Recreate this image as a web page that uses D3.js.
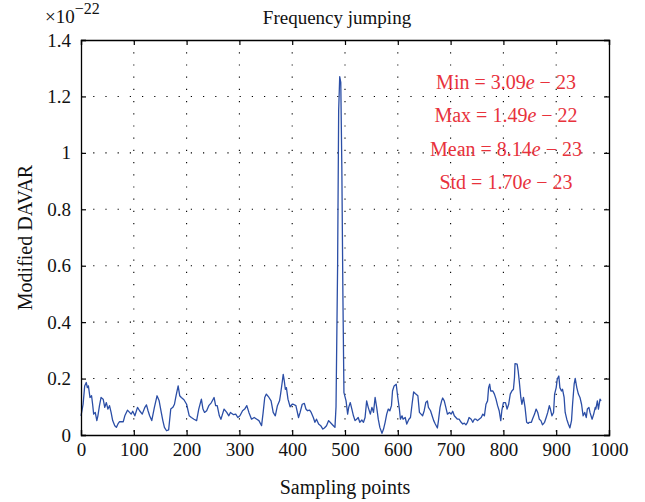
<!DOCTYPE html>
<html>
<head>
<meta charset="utf-8">
<script src="https://cdn.jsdelivr.net/npm/d3@7"></script>
<style>
  body { margin: 0; background: #fff; }
  svg { font-family: "Liberation Serif", "DejaVu Serif", serif; }
</style>
</head>
<body>
<svg id="chart" width="645" height="502"></svg>
<script>
// Modified DAVAR under frequency jumping (values in units of 1e-22)
const sampleIdx = [0,4,7,10,12,14,17,20,22,24,27,30,32,35,38,42,45,48,51,54,57,60,64,67,70,73,80,83,88,92,95,98,102,107,111,116,121,124,127,130,134,139,144,148,152,155,158,162,166,170,174,177,180,184,187,190,195,200,
  205,209,214,219,223,228,231,234,238,242,247,252,255,258,262,265,268,271,276,280,283,289,293,297,301,306,310,314,318,323,328,333,337,342,345,348,351,356,360,364,368,372,376,378,381,383,385,387,389,392,396,400,
  402,407,412,415,419,423,426,429,433,436,440,443,446,450,454,458,461,465,469,474,478,481,483,486,488,490,492,494,496,498,502,505,507,510,513,516,519,522,525,528,532,535,538,541,544,548,551,554,557,560,563,566,570,573,576,579,582,585,588,590,593,597,
  600,603,605,608,610,614,617,621,624,627,630,633,638,641,644,647,650,653,656,658,662,665,668,671,675,677,680,683,685,688,691,694,698,701,704,707,710,713,716,720,723,726,729,732,735,739,742,745,748,751,754,758,761,764,767,770,772,774,776,780,783,786,789,792,795,797,800,
  804,807,810,813,816,819,821,822,826,828,830,833,835,838,841,844,847,849,853,855,859,862,865,868,871,874,878,881,884,887,889,892,895,897,900,902,905,907,910,912,915,917,920,923,926,929,931,934,936,939,942,945,948,951,954,957,959,962,964,968,971,974,975,978,980,983,985];
const davar = [0.068,0.109,0.174,0.186,0.168,0.174,0.133,0.139,0.109,0.074,0.08,0.051,0.068,0.104,0.133,0.127,0.098,0.115,0.092,0.104,0.08,0.051,0.033,0.027,0.039,0.047,0.047,0.068,0.088,0.08,0.074,0.084,0.068,0.098,0.086,0.074,0.098,0.107,0.086,0.068,0.051,0.098,0.139,0.121,0.08,0.051,0.027,0.015,0.018,0.092,0.098,0.109,0.139,0.174,0.139,0.133,0.125,0.109,
  0.068,0.062,0.056,0.051,0.092,0.127,0.092,0.08,0.086,0.104,0.115,0.133,0.104,0.104,0.068,0.056,0.074,0.092,0.08,0.068,0.08,0.072,0.074,0.062,0.068,0.086,0.092,0.104,0.08,0.056,0.062,0.056,0.051,0.033,0.08,0.133,0.145,0.133,0.121,0.08,0.068,0.104,0.121,0.145,0.186,0.215,0.192,0.162,0.168,0.127,0.1,0.109,
  0.109,0.104,0.062,0.08,0.109,0.112,0.092,0.086,0.088,0.08,0.062,0.045,0.056,0.039,0.033,0.021,0.025,0.033,0.051,0.041,0.033,0.027,0.1,0.6,1.15,1.27,1.25,0.95,0.5,0.15,0.121,0.074,0.098,0.115,0.092,0.068,0.051,0.056,0.062,0.045,0.053,0.045,0.062,0.121,0.098,0.074,0.098,0.08,0.133,0.098,0.056,0.027,0.006,0.021,0.045,0.074,0.092,0.086,0.104,0.156,0.174,0.18,
  0.133,0.092,0.056,0.068,0.056,0.062,0.039,0.056,0.062,0.109,0.153,0.147,0.139,0.08,0.074,0.068,0.086,0.115,0.121,0.098,0.086,0.068,0.051,0.039,0.025,0.051,0.098,0.121,0.131,0.121,0.098,0.074,0.08,0.074,0.084,0.068,0.062,0.056,0.056,0.045,0.039,0.042,0.036,0.045,0.062,0.056,0.045,0.056,0.056,0.051,0.056,0.062,0.074,0.068,0.109,0.121,0.168,0.18,0.156,0.156,0.145,0.127,0.104,0.086,0.051,0.086,0.115,
  0.115,0.092,0.109,0.145,0.156,0.162,0.204,0.253,0.251,0.227,0.192,0.133,0.109,0.133,0.098,0.045,0.041,0.045,0.045,0.056,0.074,0.092,0.08,0.056,0.051,0.036,0.045,0.062,0.08,0.104,0.092,0.068,0.08,0.145,0.168,0.198,0.209,0.168,0.156,0.162,0.133,0.08,0.056,0.039,0.025,0.051,0.109,0.18,0.201,0.168,0.145,0.133,0.109,0.068,0.08,0.062,0.092,0.098,0.08,0.056,0.074,0.098,0.092,0.121,0.092,0.127,0.121];

const xTicks = [0,100,200,300,400,500,600,700,800,900,1000];
const yTicks = [0,0.2,0.4,0.6,0.8,1,1.2,1.4];
const statLines = [["Min = 3.09", "23"], ["Max = 1.49", "22"], ["Mean = 8.14", "23"], ["Std = 1.70", "23"]];

const margin = {left: 81, right: 36, top: 40, bottom: 67};
const W = 645, H = 502;
const iw = W - margin.left - margin.right;
const ih = H - margin.top - margin.bottom;

const svg = d3.select("#chart");
const g = svg.append("g").attr("transform", `translate(${margin.left},${margin.top})`);

const x = d3.scaleLinear().domain([0, 1000]).range([0, iw]);
const y = d3.scaleLinear().domain([0, 1.4]).range([ih, 0]);

// dotted grid
g.selectAll(".gx").data(xTicks.slice(1, -1)).enter().append("line")
  .attr("x1", d => x(d)).attr("x2", d => x(d)).attr("y1", 0).attr("y2", ih)
  .attr("stroke", "#000").attr("stroke-width", 1.1).attr("stroke-dasharray", "1.2,11");
g.selectAll(".gy").data(yTicks.slice(1, -1)).enter().append("line")
  .attr("x1", 0).attr("x2", iw).attr("y1", d => y(d)).attr("y2", d => y(d))
  .attr("stroke", "#000").attr("stroke-width", 1.1).attr("stroke-dasharray", "1.2,11");

// data line
const line = d3.line().x((d, i) => x(sampleIdx[i])).y(d => y(d));
g.append("path").datum(davar)
  .attr("d", line).attr("fill", "none")
  .attr("stroke", "#2b4ea6").attr("stroke-width", 1.3).attr("stroke-linejoin", "round");

// axes (MATLAB style: ticks inside, box all round)
const fmtY = d => d === 0 ? "0" : (d === 1 ? "1" : d3.format(".1f")(d));
g.append("g").attr("transform", `translate(0,${ih})`)
  .call(d3.axisBottom(x).tickValues(xTicks).tickFormat(d3.format("d")).tickSize(-5).tickPadding(8));
g.append("g")
  .call(d3.axisLeft(y).tickValues(yTicks).tickFormat(fmtY).tickSize(-5).tickPadding(10));
g.append("g").call(d3.axisTop(x).tickValues(xTicks).tickSize(-5).tickFormat(""));
g.append("g").attr("transform", `translate(${iw},0)`)
  .call(d3.axisRight(y).tickValues(yTicks).tickSize(-5).tickFormat(""));
g.selectAll(".domain").attr("stroke", "#000").attr("stroke-width", 1.3);
g.selectAll(".tick line").attr("stroke", "#000").attr("stroke-width", 1.2);
g.selectAll(".tick text").attr("font-size", 19).attr("font-family", "Liberation Serif").attr("fill", "#111");

// exponent label
const ex = svg.append("text").attr("x", 45).attr("y", 23).attr("font-size", 19).attr("fill", "#111");
ex.append("tspan").text("\u00d710");
ex.append("tspan").attr("dy", -9).attr("font-size", 16).text("\u221222");

// title and axis labels
svg.append("text").attr("x", 337).attr("y", 24).attr("text-anchor", "middle")
  .attr("font-size", 19).attr("fill", "#111").text("Frequency jumping");
svg.append("text").attr("x", margin.left + iw / 2).attr("y", 494).attr("text-anchor", "middle")
  .attr("font-size", 20).attr("fill", "#111").text("Sampling points");
svg.append("text").attr("transform", `translate(32,${margin.top + ih / 2}) rotate(-90)`)
  .attr("text-anchor", "middle").attr("font-size", 20).attr("fill", "#111").text("Modified DAVAR");

// statistics annotation
const st = svg.append("g");
statLines.forEach((s, i) => {
  const t = st.append("text").attr("x", 506).attr("y", 89 + i * 33.3)
    .attr("text-anchor", "middle").attr("font-size", 20).attr("fill", "#e8323c");
  t.append("tspan").text(s[0]);
  t.append("tspan").attr("font-style", "italic").text("e");
  t.append("tspan").text(" \u2212 " + s[1]);
});
</script>
</body>
</html>
